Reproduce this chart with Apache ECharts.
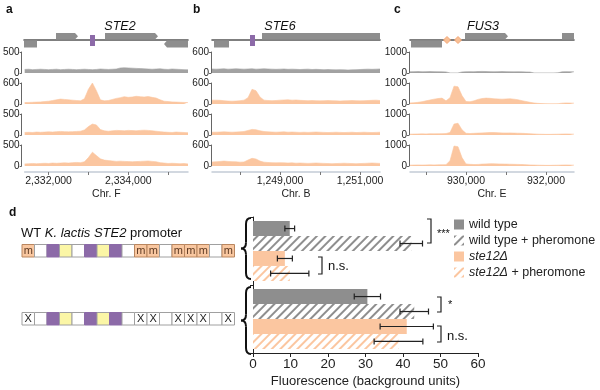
<!DOCTYPE html>
<html><head><meta charset="utf-8">
<script src="https://cdn.jsdelivr.net/npm/echarts@6/dist/echarts.min.js"></script>
<style>html,body{margin:0;padding:0;background:#fff}#c{width:600px;height:390px}</style>
</head><body><div id="c"></div>
<script>
// ================= DATA =================
// ChIP tracks: bin size 100 bp
const binStep = 100;
// Panel a  (STE2, Chr. F)
const aRange = [2331400, 2335500];
const aMax = [500, 600, 500, 500];
const a1 = [85,90,80,85,90,85,80,85,90,80,85,90,85,80,85,90,85,80,85,95,90,85,90,95,120,125,120,115,110,105,100,95,90,95,100,90,85,95,90,85,80,75];
const a2 = [40,45,50,55,60,70,80,100,120,140,130,120,110,100,90,150,420,600,380,120,90,100,130,160,180,210,190,200,220,210,200,215,190,170,120,80,70,60,55,50,45,40];
const a3 = [60,65,60,70,65,70,75,70,80,85,80,75,80,85,90,120,200,260,240,130,100,90,100,110,105,100,110,105,100,110,115,110,100,90,80,70,65,60,70,65,60,55];
const a4 = [50,55,60,55,60,65,60,70,65,70,75,70,80,85,80,100,200,330,250,170,140,130,120,110,115,110,105,100,105,110,115,120,110,100,80,70,60,65,60,55,60,50];
const aTicks = [2332000, 2333000, 2334000, 2335000];
const aLabels = [2332000, 2334000];
const genesA = [[2331375, 2331725, -1, 0], [2332200, 2332750, 1, 1], [2333425, 2334750, 1, 1], [2334900, 2335550, -1, -1]];
const motifsA = [[2333050, 2333175]];
// Panel b  (STE6, Chr. B)
const bRange = [1247300, 1251500];
const bMax = [600, 600, 600, 600];
const b1 = [115,110,115,120,110,115,120,115,110,115,120,110,115,120,115,110,105,110,115,105,110,105,100,105,110,100,105,100,95,100,95,90,95,90,85,90,95,100,105,110,105,110,115];
const b2 = [110,110,105,95,85,80,85,95,110,180,420,380,200,110,100,95,100,110,115,120,110,115,105,100,95,100,95,90,95,100,95,90,85,90,95,100,95,90,95,100,105,110,100];
const b3 = [80,80,85,90,85,80,85,90,100,130,160,150,120,100,90,85,80,85,90,80,85,80,75,80,75,80,85,80,75,70,75,80,75,70,75,80,70,75,80,75,70,75,80];
const b4 = [115,120,130,140,130,125,120,110,115,170,220,200,140,110,100,95,90,95,90,85,90,80,85,80,75,80,85,80,75,70,65,70,75,80,75,70,65,70,75,80,85,80,75];
const bTicks = [1248000, 1249000, 1250000, 1251000];
const bLabels = [1249000, 1251000];
const genesB = [[1247350, 1247725, -1, 0], [1248550, 1251600, 1, 0]];
const motifsB = [[1248250, 1248375]];
// Panel c  (FUS3, Chr. E)
const cRange = [928600, 932700];
const cMax = [1000, 1000, 1000, 1000];
const c1 = [60,65,70,60,65,70,65,60,55,50,5,5,5,50,60,65,60,70,75,70,65,60,65,70,65,60,55,60,55,50,45,5,5,5,5,5,5,10,55,65,60,55];
const c2 = [50,60,80,110,150,190,230,260,280,150,300,850,820,400,120,110,150,220,260,280,270,250,240,230,240,250,230,200,160,120,80,50,30,20,15,10,10,15,40,50,45,40];
const c3 = [40,45,50,55,50,60,55,60,65,70,120,520,560,250,80,70,80,90,100,110,120,115,110,100,95,100,90,85,80,70,60,50,40,35,30,30,35,40,45,50,45,40];
const c4 = [40,45,50,45,50,55,50,55,60,65,250,950,920,400,100,80,70,75,90,100,110,105,100,95,90,85,80,75,70,60,50,45,40,35,30,30,35,40,45,50,45,40];
const cTicks = [929000, 930000, 931000, 932000];
const cLabels = [930000, 932000];
const genesC = [[928625, 929400, -1, 0], [929975, 931050, 1, 1], [932400, 932800, 1, 0]];
const sitesC = [929525, 929800];

// Panel d  (fluorescence bars)
const categories = ['WT K. lactis STE2 promoter', 'Mutated promoter'];
const seriesNames = ['wild type', 'wild type + pheromone', 'ste12Δ', 'ste12Δ + pheromone'];
const wt = [9.8, 30.5];        const wtErr = [1.3, 3.5];
const wtPh = [42.2, 43.0];     const wtPhErr = [3.0, 3.8];
const ste = [8.5, 41.0];       const steErr = [2.0, 7.1];
const stePh = [9.8, 38.8];     const stePhErr = [5.1, 6.5];
const xTicksD = [0, 60, 10];
// promoter cells: m = Ste12 site, X = mutated site, P = purple motif, Y = yellow motif, - = empty
const promoterWT  = ['m','-','P','Y','-','P','Y','P','-','m','m','-','m','m','m','-','m'];
const promoterMut = ['X','-','P','Y','-','P','Y','P','-','X','X','-','X','X','X','-','X'];
const significance = ['***', 'n.s.', '*', 'n.s.'];

// ================= CHART =================
const FONT = "'Liberation Sans', Arial, Helvetica, sans-serif";
const GRAY = '#8e8e8e', ORANGE = '#fbc6a0', TRACKGRAY = '#a2a2a2';
const chart = echarts.init(document.getElementById('c'), null, {renderer: 'canvas'});

const panels = [
  {range: aRange, max: aMax, tracks: [a1,a2,a3,a4], left: 24, yOff: 3, chr: 'Chr. F', ticks: aTicks, labels: aLabels, genes: genesA, motifs: motifsA, sites: []},
  {range: bRange, max: bMax, tracks: [b1,b2,b3,b4], left: 212, yOff: 1, chr: 'Chr. B', ticks: bTicks, labels: bLabels, genes: genesB, motifs: motifsB, sites: []},
  {range: cRange, max: cMax, tracks: [c1,c2,c3,c4], left: 410, yOff: 1, chr: 'Chr. E', ticks: cTicks, labels: cLabels, genes: genesC, motifs: [], sites: sitesC}
];
const trackTops = [52, 83, 114, 145], trackH = 21;
const grids = [], xAxes = [], yAxes = [], series = [];
const fmtNum = v => String(v).replace(/\B(?=(\d{3})+(?!\d))/g, ',');

panels.forEach((p, pi) => {
  const width = (p.range[1] - p.range[0]) / 25;
  p.tracks.forEach((vals, ti) => {
    const gi = grids.length;
    grids.push({left: p.left, top: trackTops[ti], width: width, height: trackH});
    const last = ti === 3;
    xAxes.push({
      gridIndex: gi, type: 'value', min: p.range[0], max: p.range[1],
      show: last, position: 'bottom', offset: 6,
      axisLine: {show: true, onZero: false, lineStyle: {color: '#c4ccd6', width: 1.5}},
      axisTick: {show: true, length: 3, customValues: p.ticks, lineStyle: {color: '#777'}},
      axisLabel: {show: true, customValues: p.labels, formatter: fmtNum, fontSize: 10.5, color: '#222', margin: 4, fontFamily: FONT},
      splitLine: {show: false},
      name: p.chr, nameLocation: 'middle', nameGap: 17, nameTextStyle: {fontSize: 10.5, color: '#222', fontFamily: FONT}
    });
    yAxes.push({
      gridIndex: gi, type: 'value', min: 0, max: p.max[ti], interval: p.max[ti], offset: p.yOff,
      axisLine: {show: true, lineStyle: {color: '#666', width: 1}},
      axisTick: {show: true, length: 2, lineStyle: {color: '#666'}},
      axisLabel: {fontSize: 10, color: '#222', margin: 2, fontFamily: FONT, formatter: v => String(v)},
      splitLine: {show: false}
    });
    const col = ti === 0 ? TRACKGRAY : ORANGE;
    series.push({
      type: 'line', xAxisIndex: gi, yAxisIndex: gi, silent: true,
      data: vals.map((v, i) => [p.range[0] + i * binStep, v]),
      showSymbol: false, symbol: 'none', clip: true,
      lineStyle: {width: 0.6, color: col}, areaStyle: {color: col, opacity: 1}
    });
  });
});

// gene annotation grids
function geneItem(params, api) {
  const cs = params.coordSys;
  let x0 = api.coord([api.value(0), 0])[0], x1 = api.coord([api.value(1), 0])[0];
  const yc = api.coord([api.value(0), 0])[1];
  const strand = api.value(2), arrow = api.value(3);
  const L = cs.x, R = cs.x + cs.width;
  const clipL = x0 < L, clipR = x1 > R;
  x0 = Math.max(x0, L); x1 = Math.min(x1, R);
  const top = strand > 0 ? yc - 7 : yc + 0.5, bot = strand > 0 ? yc - 0.5 : yc + 7.5;
  const mid = (top + bot) / 2, ah = 3;
  let pts;
  if (arrow > 0 && !clipR) pts = [[x0,top],[x1-ah,top],[x1,mid],[x1-ah,bot],[x0,bot]];
  else if (arrow < 0 && !clipL) pts = [[x0+ah,top],[x1,top],[x1,bot],[x0+ah,bot],[x0,mid]];
  else pts = [[x0,top],[x1,top],[x1,bot],[x0,bot]];
  return {type: 'polygon', shape: {points: pts}, style: {fill: GRAY}};
}
function motifItem(params, api) {
  const s = api.coord([api.value(0), 0]), e = api.coord([api.value(1), 0]);
  return {type: 'rect', shape: {x: s[0], y: s[1] - 5, width: Math.max(e[0] - s[0], 4), height: 11}, style: {fill: '#8c6aa8'}};
}
function siteItem(params, api) {
  const c = api.coord([api.value(0), 0]);
  return {type: 'polygon', shape: {points: [[c[0]-3.5,c[1]],[c[0],c[1]-3.5],[c[0]+3.5,c[1]],[c[0],c[1]+3.5]]}, style: {fill: '#f8bf95', stroke: '#f3a878', lineWidth: 1}};
}
panels.forEach((p, pi) => {
  const gi = grids.length;
  const width = (p.range[1] - p.range[0]) / 25;
  grids.push({left: p.left, top: 30, width: width, height: 20});
  xAxes.push({gridIndex: gi, type: 'value', min: p.range[0], max: p.range[1],
    axisLine: {show: true, onZero: true, lineStyle: {color: '#555', width: 1.6}},
    axisTick: {show: false}, axisLabel: {show: false}, splitLine: {show: false}});
  yAxes.push({gridIndex: gi, type: 'value', min: -1, max: 1, show: false, splitLine: {show: false}});
  series.push({type: 'custom', xAxisIndex: gi, yAxisIndex: gi, silent: true, renderItem: geneItem,
    encode: {x: [0, 1]}, data: p.genes, clip: false, z: 3});
  if (p.motifs.length) series.push({type: 'custom', xAxisIndex: gi, yAxisIndex: gi, silent: true, renderItem: motifItem,
    encode: {x: [0, 1]}, data: p.motifs, z: 4});
  if (p.sites.length) series.push({type: 'custom', xAxisIndex: gi, yAxisIndex: gi, silent: true, renderItem: siteItem,
    encode: {x: 0}, data: p.sites.map(v => [v]), z: 4});
});

// bar chart grid
const barGi = grids.length;
grids.push({left: 253, top: 217, width: 225, height: 136});
xAxes.push({gridIndex: barGi, type: 'value', min: xTicksD[0], max: xTicksD[1], interval: xTicksD[2],
  axisLine: {show: true, lineStyle: {color: '#222', width: 1}},
  axisTick: {show: true, length: 4, lineStyle: {color: '#222'}},
  axisLabel: {fontSize: 13.5, color: '#222', margin: 4, fontFamily: FONT},
  splitLine: {show: false},
  name: 'Fluorescence (background units)', nameLocation: 'middle', nameGap: 22,
  nameTextStyle: {fontSize: 13, color: '#222', fontFamily: FONT}});
yAxes.push({gridIndex: barGi, type: 'category', data: categories, inverse: true,
  axisLine: {show: true, lineStyle: {color: '#222', width: 1}},
  axisTick: {show: true, length: 3, lineStyle: {color: '#222'}},
  axisLabel: {show: false}, splitLine: {show: false}});
const hatch = c => ({symbol: 'rect', symbolSize: 1, dashArrayX: [1, 0], dashArrayY: [2, 4], rotation: -Math.PI / 4, color: c});
const barVals = [wt, wtPh, ste, stePh], barErrs = [wtErr, wtPhErr, steErr, stePhErr];
const barStyles = [
  {color: GRAY},
  {color: '#ffffff', decal: hatch('#8e8e8e')},
  {color: ORANGE},
  {color: '#ffffff', decal: hatch('#fbc6a0')}
];
seriesNames.forEach((n, k) => {
  series.push({name: n, type: 'bar', xAxisIndex: barGi, yAxisIndex: barGi, data: barVals[k],
    barGap: '0%', barCategoryGap: '12%', itemStyle: barStyles[k], silent: true});
});
function errItem(params, api) {
  const cat = api.value(0), v = api.value(1), e = api.value(2), k = api.value(3);
  const c = api.coord([v, cat]);
  const band = api.size([0, 1])[1];
  const y = c[1] + (-0.44 + (k + 0.5) * 0.22) * band;
  const xl = api.coord([v - e, cat])[0], xr = api.coord([v + e, cat])[0];
  const st = {stroke: '#222', lineWidth: 1.2};
  return {type: 'group', children: [
    {type: 'line', shape: {x1: xl, y1: y, x2: xr, y2: y}, style: st},
    {type: 'line', shape: {x1: xl, y1: y - 3, x2: xl, y2: y + 3}, style: st},
    {type: 'line', shape: {x1: xr, y1: y - 3, x2: xr, y2: y + 3}, style: st}
  ]};
}
const errData = [];
barVals.forEach((vals, k) => vals.forEach((v, ci) => errData.push([ci, v, barErrs[k][ci], k])));
series.push({type: 'custom', xAxisIndex: barGi, yAxisIndex: barGi, renderItem: errItem, silent: true,
  encode: {x: 1, y: 0}, data: errData, z: 5});

// promoter diagram grid
const proGi = grids.length;
grids.push({left: 22, top: 217, width: 212.5, height: 136});
xAxes.push({gridIndex: proGi, type: 'value', min: 0, max: promoterWT.length, show: false, splitLine: {show: false}});
yAxes.push({gridIndex: proGi, type: 'category', data: categories, inverse: true, show: false});
const cellCode = {'-': 0, 'P': 1, 'Y': 2, 'm': 3, 'X': 4};
const cellData = [];
[promoterWT, promoterMut].forEach((row, r) => row.forEach((ch, i) => cellData.push([i, r, cellCode[ch]])));
function cellItem(params, api) {
  const i = api.value(0), r = api.value(1), t = api.value(2);
  const p0 = api.coord([i, r]), p1 = api.coord([i + 1, r]);
  const h = 12.5, y = p0[1] - 6.5;
  const fill = ['#ffffff', '#8c6aa8', '#fbf6a6', '#f9c7a0', '#ffffff'][t];
  const stroke = t === 3 ? '#b9865f' : (t === 1 ? '#8c6aa8' : '#a0a0a0');
  const ch = [{type: 'rect', shape: {x: p0[0], y: y, width: p1[0] - p0[0], height: h}, style: {fill: fill, stroke: stroke, lineWidth: 1}}];
  if (t === 3 || t === 4) ch.push({type: 'text', style: {text: t === 3 ? 'm' : 'X', x: (p0[0] + p1[0]) / 2, y: p0[1] - 0.5,
    align: 'center', verticalAlign: 'middle', fontSize: 11, fill: t === 3 ? '#5e3a22' : '#222', fontFamily: FONT}});
  return {type: 'group', children: ch};
}
series.push({type: 'custom', xAxisIndex: proGi, yAxisIndex: proGi, renderItem: cellItem, silent: true,
  encode: {x: 0, y: 1}, data: cellData});

// annotations
const T = (x, y, text, extra) => ({type: 'text', x: x, y: y, silent: true,
  style: Object.assign({text: text, fontFamily: FONT, fill: '#111', fontSize: 12, verticalAlign: 'middle'}, extra || {})});
const bracket = (x, y1, y2) => ({type: 'polyline', silent: true, shape: {points: [[x - 4, y1], [x, y1], [x, y2], [x - 4, y2]]},
  style: {stroke: '#222', lineWidth: 1.2, fill: null}});
const brace = (xTip, top, bot) => {
  const xm = xTip + 5, x1 = xTip + 10, m = (top + bot) / 2, r = 6;
  const st = {stroke: '#111', lineWidth: 2, fill: null};
  const q = (ax, ay, cx, cy, bx, by) => ({type: 'bezierCurve', shape: {x1: ax, y1: ay, x2: bx, y2: by, cpx1: cx, cpy1: cy}, style: st});
  const l = (ax, ay, bx, by) => ({type: 'line', shape: {x1: ax, y1: ay, x2: bx, y2: by}, style: st});
  return {type: 'group', silent: true, children: [
    q(x1, top, xm, top, xm, top + r), l(xm, top + r, xm, m - r), q(xm, m - r, xm, m, xTip, m),
    q(xTip, m, xm, m, xm, m + r), l(xm, m + r, xm, bot - r), q(xm, bot - r, xm, bot, x1, bot)
  ]};
};
const graphics = [
  T(6, 10, 'a', {fontWeight: 'bold', fontSize: 12}),
  T(193, 10, 'b', {fontWeight: 'bold', fontSize: 12}),
  T(394, 10, 'c', {fontWeight: 'bold', fontSize: 12}),
  T(9, 213, 'd', {fontWeight: 'bold', fontSize: 12}),
  T(120, 27, 'STE2', {fontStyle: 'italic', fontSize: 12.5, align: 'center'}),
  T(280, 27, 'STE6', {fontStyle: 'italic', fontSize: 12.5, align: 'center'}),
  T(483, 27, 'FUS3', {fontStyle: 'italic', fontSize: 12.5, align: 'center'}),
  {type: 'text', x: 21, y: 233, silent: true, style: {text: '{n|WT }{i|K. lactis STE2}{n| promoter}', verticalAlign: 'middle',
    rich: {n: {fontSize: 13, fontFamily: FONT, fill: '#111'}, i: {fontSize: 13, fontFamily: FONT, fontStyle: 'italic', fill: '#111'}}}},
  brace(241, 218, 279),
  brace(241, 287, 354),
  bracket(431, 219, 243), T(437, 234, significance[0], {fontSize: 11}),
  bracket(322, 257, 274), T(328, 266, significance[1], {fontSize: 13}),
  bracket(441, 297, 312), T(448, 305, significance[2], {fontSize: 11}),
  bracket(441, 326, 342), T(447, 336, significance[3], {fontSize: 13})
];

chart.setOption({
  animation: false,
  textStyle: {fontFamily: FONT},
  grid: grids, xAxis: xAxes, yAxis: yAxes, series: series,
  legend: {data: seriesNames, orient: 'vertical', left: 449, top: 213, itemWidth: 10, itemHeight: 10, itemGap: 3,
    icon: 'rect', selectedMode: false,
    formatter: n => n.indexOf('ste12Δ') === 0 ? '{i|ste12Δ}' + n.slice(6) : n,
    textStyle: {fontSize: 12.5, color: '#222', fontFamily: FONT, rich: {i: {fontStyle: 'italic', fontSize: 12.5, fontFamily: FONT, color: '#222'}}}},
  graphic: graphics
});
</script></body></html>
